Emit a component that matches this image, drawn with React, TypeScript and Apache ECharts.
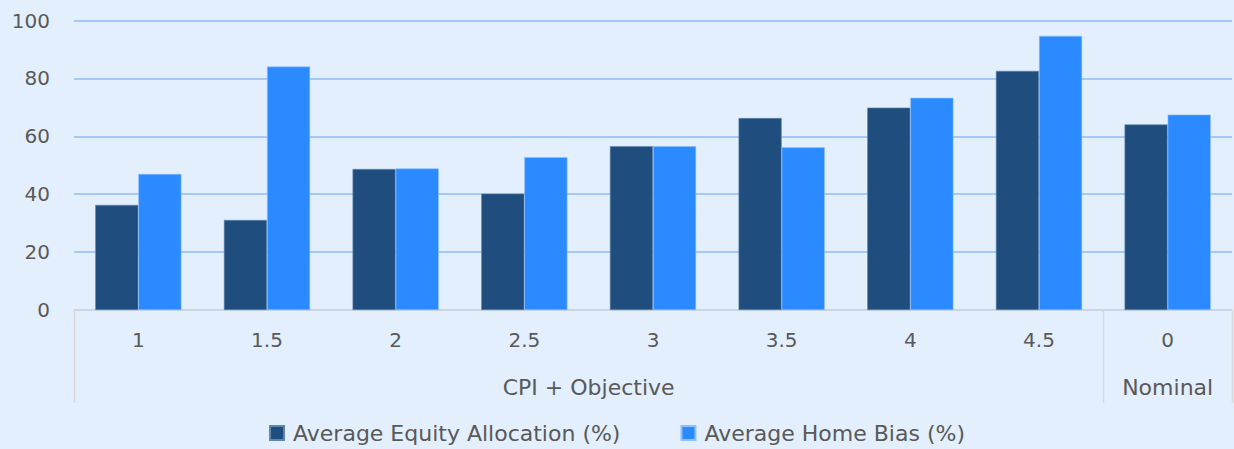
import React, { useEffect, useRef } from "react";
import * as echarts from "echarts";

const categories = ["1", "1.5", "2", "2.5", "3", "3.5", "4", "4.5", "0"];
const groupNames = ["CPI + Objective", "Nominal"];
const groupSpans = [8, 1];
const equityAllocation = [36.3, 31.1, 48.7, 40.2, 56.6, 66.3, 69.9, 82.6, 64.1];
const homeBias = [47.0, 84.1, 48.9, 52.8, 56.6, 56.2, 73.3, 94.7, 67.5];
const seriesNames = ["Average Equity Allocation (%)", "Average Home Bias (%)"];

const FONT = "'DejaVu Sans', sans-serif";
const TEXT = "#595959";
const LINE = "#d9d9d9";

export default function App() {
  const ref = useRef<HTMLDivElement>(null);
  useEffect(() => {
    document.body.style.margin = "0";
    const chart = echarts.init(ref.current!, null, { renderer: "svg" });
    chart.setOption({
      animation: false,
      backgroundColor: "#E3EFFD",
      textStyle: { fontFamily: FONT },
      grid: { left: 74, right: 2, top: 20.5, bottom: 139, containLabel: false },
      legend: {
        bottom: 0,
        left: "center",
        itemWidth: 14,
        itemHeight: 14,
        itemGap: 60,
        icon: "rect",
        textStyle: { color: TEXT, fontSize: 22, fontFamily: FONT, padding: [0, 0, 0, 4] },
        data: seriesNames,
      },
      xAxis: {
        type: "category",
        data: categories,
        axisLine: { show: true, lineStyle: { color: LINE, width: 1.5 } },
        axisTick: { show: false },
        axisLabel: { color: TEXT, fontSize: 20, fontFamily: FONT, margin: 20 },
      },
      yAxis: {
        type: "value",
        min: 0,
        max: 100,
        interval: 20,
        axisLine: { show: false },
        axisTick: { show: false },
        axisLabel: { color: TEXT, fontSize: 20, fontFamily: FONT, margin: 24 },
        splitLine: { lineStyle: { color: "#A4C9F8", width: 2 } },
      },
      series: [
        {
          name: seriesNames[0],
          type: "bar",
          data: equityAllocation,
          barGap: "0%",
          barCategoryGap: "33%",
          itemStyle: { color: "#1F4E7E", borderColor: "#5f86b0", borderWidth: 0.6 },
        },
        {
          name: seriesNames[1],
          type: "bar",
          data: homeBias,
          itemStyle: { color: "#2B8AFF", borderColor: "#8ec0fb", borderWidth: 0.6 },
        },
      ],
    });

    const x0 = chart.convertToPixel({ xAxisIndex: 0 }, 0) as number;
    const x1 = chart.convertToPixel({ xAxisIndex: 0 }, 1) as number;
    const band = x1 - x0;
    const yAxis0 = chart.convertToPixel({ yAxisIndex: 0 }, 0) as number;
    const left = x0 - band / 2;
    const graphics: any[] = [];
    let start = 0;
    const bounds = [left];
    groupNames.forEach((name, i) => {
      const span = groupSpans[i];
      const gx0 = left + start * band;
      const gx1 = left + (start + span) * band;
      bounds.push(gx1);
      graphics.push({
        type: "text",
        x: (gx0 + gx1) / 2,
        y: yAxis0 + 77,
        style: {
          text: name,
          fill: TEXT,
          font: `22px ${FONT}`,
          textAlign: "center",
          textVerticalAlign: "middle",
        },
      });
      start += span;
    });
    bounds.forEach((bx) => {
      graphics.push({
        type: "line",
        shape: { x1: Math.round(bx) + 0.5, y1: yAxis0, x2: Math.round(bx) + 0.5, y2: yAxis0 + 93 },
        style: { stroke: LINE, lineWidth: 1.5 },
      });
    });
    chart.setOption({ graphic: graphics });

    return () => chart.dispose();
  }, []);
  return <div ref={ref} style={{ width: 1234, height: 449 }} />;
}
